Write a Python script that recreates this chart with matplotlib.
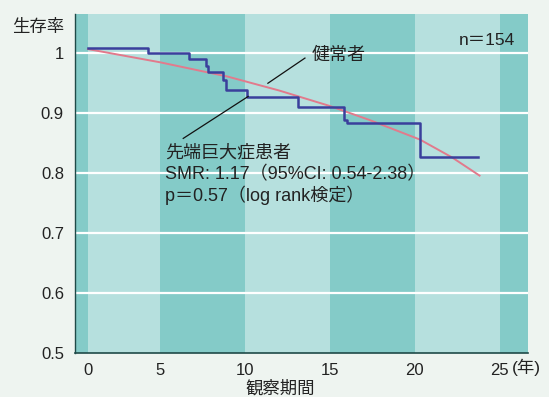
import numpy as np
import matplotlib
matplotlib.use("Agg")
import matplotlib.pyplot as plt

plt.rcParams['font.family'] = ['Liberation Sans', 'Noto Sans CJK JP']

# Kaplan-Meier of acromegaly patients (years, survival)
km_years = [0, 4.2, 6.7, 7.7, 7.8, 8.7, 8.9, 10.1, 13.1, 15.8, 16.0, 20.3, 23.7]
km_surv = [1.008, 1.0, 0.99, 0.978, 0.969, 0.956, 0.939, 0.927, 0.911, 0.889, 0.883, 0.827, 0.827]

# expected survival of healthy population
ref_years = [0, 5, 9, 12, 15, 17.3, 20.3, 22.2, 23.8]
ref_surv = [1.007, 0.985, 0.961, 0.938, 0.912, 0.889, 0.856, 0.826, 0.796]

x_ticks = [0, 5, 10, 15, 20, 25]
y_ticks = [0.5, 0.6, 0.7, 0.8, 0.9, 1.0]
y_ticklabels = ['0.5', '0.6', '0.7', '0.8', '0.9', '1']

# annotation anchors
healthy_line = [(11.35, 0.95), (13.53, 0.992)]
patient_line = [(6.37, 0.858), (10.19, 0.928)]
patient_text = ['先端巨大症患者', 'SMR: 1.17（95%CI: 0.54-2.38）', 'p＝0.57（log rank検定）']

dark = '#84cbc8'
light = '#b6e0de'
txt = '#222222'

# first 5 years are drawn a little narrower in the original
k = 72 / 85


def fwd(x):
    x = np.asarray(x, dtype=float)
    return np.where(x < 5, 5 + (x - 5) * k, x)


def inv(x):
    x = np.asarray(x, dtype=float)
    return np.where(x < 5, 5 + (x - 5) / k, x)


fig = plt.figure(figsize=(5.49, 3.97), dpi=100, facecolor='#eef4f0')
ax = fig.add_axes([0.1366, 0.1108, 0.8251, 0.8539])
ax.set_xscale('function', functions=(fwd, inv))
x0, x1 = -0.9, 26.65
ax.set_xlim(x0, x1)
ax.set_ylim(0.5, 1.0655)

# alternating bands
edges = [x0] + x_ticks + [x1]
for i in range(len(edges) - 1):
    ax.axvspan(edges[i], edges[i + 1], color=dark if i % 2 == 0 else light, lw=0, zorder=0)

for y in y_ticks[1:]:
    ax.axhline(y, color='white', lw=1.6, zorder=1)

ax.plot(ref_years, ref_surv, color='#e27a8c', lw=1.4, zorder=3)
ax.step(km_years, km_surv, where='post', color='#3a3f9c', lw=1.8, zorder=4)

# leader lines and labels
(ax1, ay1), (ax2, ay2) = healthy_line
ax.plot([ax1, ax2], [ay1, ay2], color='#111111', lw=0.9, zorder=5)
ax.text(13.92, 0.997, '健常者', fontsize=13, color=txt, va='center', ha='left')
(bx1, by1), (bx2, by2) = patient_line
ax.plot([bx1, bx2], [by1, by2], color='#111111', lw=0.9, zorder=5)
for s, yy in zip(patient_text, [0.834, 0.798, 0.763]):
    ax.text(5.29, yy, s, fontsize=13, color=txt, va='center', ha='left')
ax.text(25.88, 1.022, 'n＝154', fontsize=12.5, color=txt, va='center', ha='right')

ax.set_xticks(x_ticks)
ax.set_xticklabels([str(t) for t in x_ticks])
ax.set_yticks(y_ticks)
ax.set_yticklabels(y_ticklabels)
ax.tick_params(length=0, labelsize=12, colors=txt, pad=8)
ax.tick_params(axis='x', pad=7)

for side in ['top', 'right']:
    ax.spines[side].set_visible(False)
ax.spines['left'].set_color('#1f4a48')
ax.spines['bottom'].set_color('#1f4a48')
ax.spines['left'].set_linewidth(1.0)
ax.spines['bottom'].set_linewidth(1.2)

fig.text(38 / 549, 1 - 27 / 397, '生存率', fontsize=12.5, color=txt, ha='center', va='center')
fig.text(512 / 549, 1 - 367 / 397, '(年)', fontsize=12.5, color=txt, ha='left', va='center')
fig.text(280 / 549, 1 - 388 / 397, '観察期間', fontsize=12.5, color=txt, ha='center', va='center')

fig.savefig('out.png', dpi=100, facecolor=fig.get_facecolor())
